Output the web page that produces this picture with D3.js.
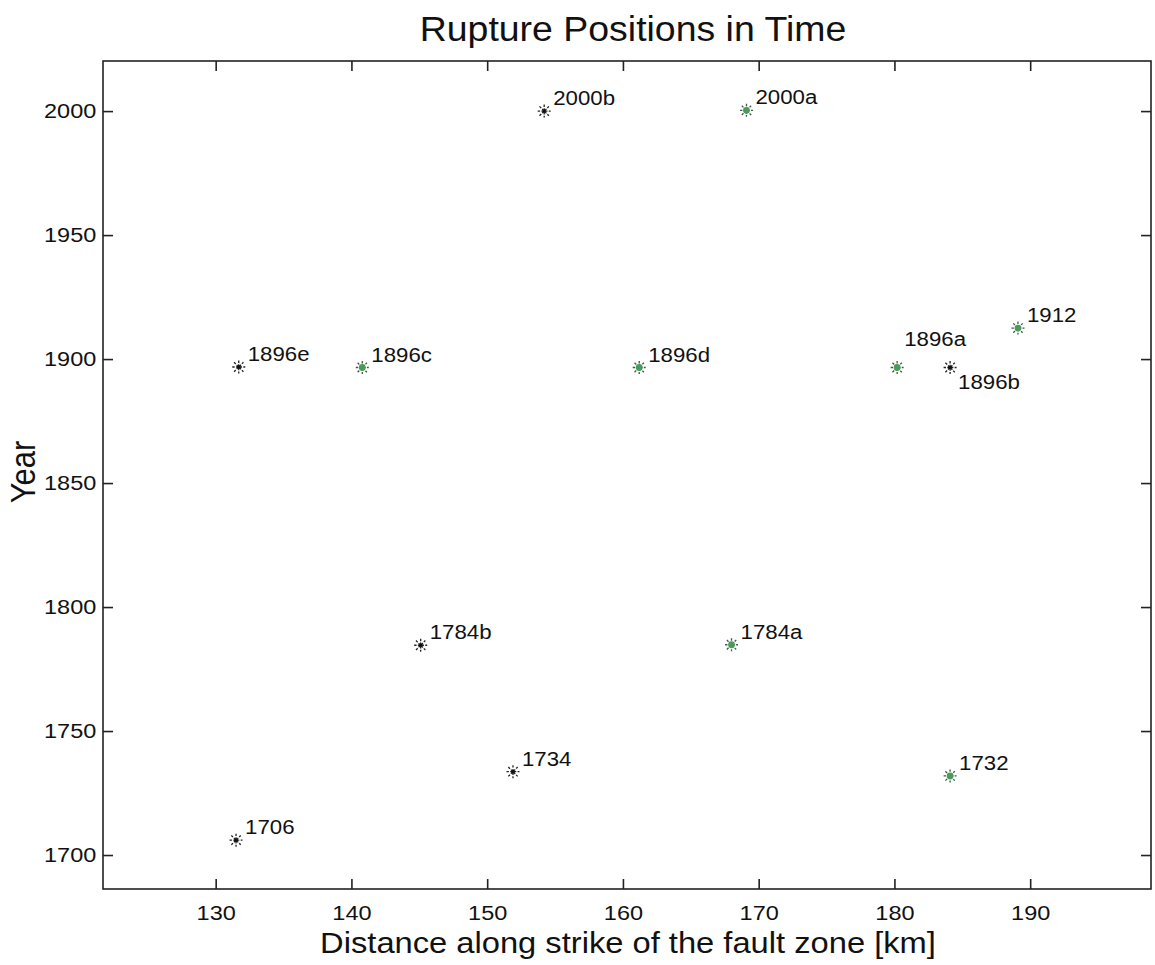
<!DOCTYPE html>
<html lang="en">
<head>
<meta charset="utf-8">
<title>Rupture Positions in Time</title>
<script src="https://d3js.org/d3.v7.min.js"></script>
<style>
  body { margin: 0; background: #fff; }
  svg text { font-family: "Liberation Sans", Arial, Helvetica, sans-serif; fill: #111; }
</style>
</head>
<body>
<div id="chart"></div>
<script>
// rupture data
var ruptureNames = ["1706", "1734", "1732", "1784b", "1784a", "1896e", "1896c", "1896d", "1896a", "1896b", "1912", "2000b", "2000a"];
var ruptureKm    = [131.5, 151.9, 184.1, 145.1, 168.0, 131.7, 140.8, 161.2, 180.2, 184.1, 189.1, 154.2, 169.1];
var ruptureYear  = [1706, 1733.6, 1731.9, 1784.6, 1784.8, 1896.8, 1896.6, 1896.6, 1896.6, 1896.6, 1912.5, 2000, 2000.3];
var ruptureGroup = ["k", "k", "g", "k", "g", "k", "g", "g", "g", "k", "g", "k", "g"];
// where the name sits: "ur" up-right (default), "ul" above, "lr" below-right
var labelSpot    = ["ur", "ur", "ur", "ur", "ur", "ur", "ur", "ur", "ul", "lr", "ur", "ur", "ur"];

var xTicks = [130, 140, 150, 160, 170, 180, 190];
var yTicks = [1700, 1750, 1800, 1850, 1900, 1950, 2000];

var W = 1155, H = 965;
var frameL = 103, frameR = 1151, frameT = 61, frameB = 889;

// the scanned figure is a bit wider than tall, so text gets stretched sideways
var tickStretch = 1.12, nameStretch = 1.06;

var svg = d3.select("#chart").append("svg")
  .attr("width", W)
  .attr("height", H);

var x = d3.scaleLinear().domain([121.7, 198.9]).range([frameL, frameR]);
var y = d3.scaleLinear().domain([1686.3, 2020.2]).range([frameB, frameT]);

var tickLen = 10;

// axes, ticks pointing inward on all four sides
var bottomAxis = d3.axisBottom(x).tickValues(xTicks).tickSizeInner(-tickLen).tickSizeOuter(0).tickPadding(16);
var topAxis = d3.axisTop(x).tickValues(xTicks).tickSizeInner(-tickLen).tickSizeOuter(0).tickFormat("");
var leftAxis = d3.axisLeft(y).tickValues(yTicks).tickSizeInner(-tickLen).tickSizeOuter(0).tickPadding(6).tickFormat(d3.format("d"));
var rightAxis = d3.axisRight(y).tickValues(yTicks).tickSizeInner(-tickLen).tickSizeOuter(0).tickFormat("");

function styleAxis(g) {
  g.select(".domain").remove();
  g.selectAll(".tick line").attr("stroke", "#222").attr("stroke-width", 1.6);
  g.selectAll(".tick text").attr("font-size", 21).attr("fill", "#111")
    .attr("font-family", "'Liberation Sans', Arial, sans-serif")
    .attr("transform", "scale(" + tickStretch + ",1)");
}

svg.append("g").attr("transform", "translate(0," + frameB + ")").call(bottomAxis).call(styleAxis);
svg.append("g").attr("transform", "translate(0," + frameT + ")").call(topAxis).call(styleAxis);
svg.append("g").attr("transform", "translate(" + frameL + ",0)").call(leftAxis).call(styleAxis);
svg.append("g").attr("transform", "translate(" + frameR + ",0)").call(rightAxis).call(styleAxis);

// plot box
svg.append("rect")
  .attr("x", frameL).attr("y", frameT)
  .attr("width", frameR - frameL).attr("height", frameB - frameT)
  .attr("fill", "none")
  .attr("stroke", "#222")
  .attr("stroke-width", 1.6);

// asterisk markers
var rupt = ruptureNames.map(function(n, i) {
  return { name: n, km: ruptureKm[i], year: ruptureYear[i], group: ruptureGroup[i], spot: labelSpot[i] };
});

var starPath = (function() {
  var r = 6.5, d = r * 0.72, p = "";
  p += "M" + (-r) + ",0L" + r + ",0";
  p += "M0," + (-r) + "L0," + r;
  p += "M" + (-d) + "," + (-d) + "L" + d + "," + d;
  p += "M" + (-d) + "," + d + "L" + d + "," + (-d);
  return p;
})();

var marks = svg.selectAll(".rupt")
  .data(rupt)
  .enter()
  .append("g")
  .attr("class", "rupt")
  .attr("transform", function(d) { return "translate(" + x(d.km) + "," + y(d.year) + ")"; });

marks.append("path")
  .attr("d", starPath)
  .attr("fill", "none")
  .attr("stroke", function(d) { return d.group == "g" ? "#3d5a45" : "#222"; })
  .attr("stroke-width", 1.3)
  .attr("stroke-dasharray", "2.4,1.3");

marks.filter(function(d) { return d.group == "g"; })
  .append("circle")
  .attr("r", 3.4)
  .attr("fill", "#4a9a5a");

marks.filter(function(d) { return d.group == "k"; })
  .append("circle")
  .attr("r", 1.7)
  .attr("fill", "#111");

marks.append("text")
  .attr("font-size", 21)
  .attr("transform", function(d) {
    var dx = 9, dy = -6;
    if (d.spot == "ul") { dx = 7; dy = -22; }
    if (d.spot == "lr") { dx = 8; dy = 21; }
    return "translate(" + dx + "," + dy + ") scale(" + nameStretch + ",1)";
  })
  .text(function(d) { return d.name; });

// titles
function addText(tx, ty, size, stretch, str, rot) {
  var t = "translate(" + tx + "," + ty + ")";
  if (rot) t += " rotate(" + rot + ")";
  t += " scale(" + stretch + ",1)";
  return svg.append("text")
    .attr("transform", t)
    .attr("text-anchor", "middle")
    .attr("font-size", size)
    .text(str);
}

addText(633, 41, 35, 1.07, "Rupture Positions in Time");
addText(628, 953, 30, 1.09, "Distance along strike of the fault zone [km]");
// rotated: stretch applies along the text, so keep it at 1 and widen the font instead
svg.append("text")
  .attr("transform", "translate(35,472) rotate(-90) scale(1,1.12)")
  .attr("text-anchor", "middle")
  .attr("font-size", 31)
  .text("Year");
</script>
</body>
</html>
